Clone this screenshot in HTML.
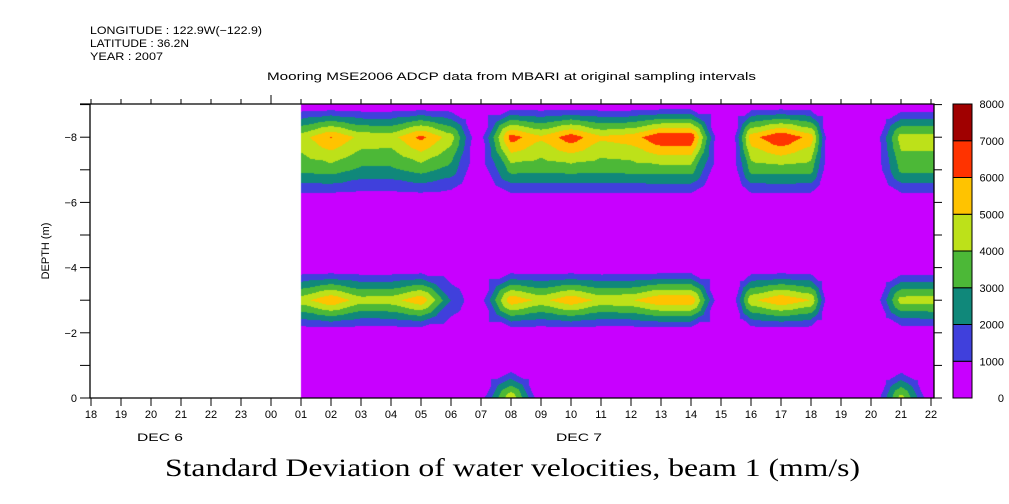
<!DOCTYPE html>
<html><head><meta charset="utf-8"><style>
html,body{margin:0;padding:0;background:#fff;width:1009px;height:504px;overflow:hidden}
svg{position:absolute;left:0;top:0}
canvas{position:absolute;left:0;top:0}
text{font-family:"Liberation Sans",sans-serif;font-size:11px;fill:#000}
</style></head><body>
<canvas id="field" width="1009" height="504"></canvas>
<svg id="chart" width="1009" height="504"></svg>
<script>
// hours since Dec 6 18:00 (index 7 = Dec 7 01:00)
const times = [7,8,9,10,11,12,12.9,14,15,16,17,18,19,20,20.95,21.35,22,23,24,24.6,26.1,27,28];
const depths = [0,-1,-2,-3,-4,-5,-6,-7,-8,-9];
// rows by depth (0 .. -9), columns by times
const row0 = [0,0,0,0,0,0,0,4900,0,0,0,0,0,0,0,0,0,0,0,0,0,4500,0];
const row3 = [4600,5900,4500,4600,5800,2000,0,5800,4700,5800,4700,4900,5900,5900,0,0,4800,5900,5000,0,0,4500,4600];
const row7 = [3300,3500,2800,2800,3400,2600,0,3400,3300,3400,3300,3400,3500,3500,0,0,3400,3500,3400,0,0,3300,3300];
const row8 = [4600,6050,4700,4600,6300,4500,0,6500,5200,6600,5200,5500,6900,6900,0,0,5600,7000,5600,0,0,4500,4500];
const zeros = times.map(()=>0);
const grid = [row0, zeros, zeros, row3, zeros, zeros, zeros, row7, row8, zeros];
const levels = [0,1000,2000,3000,4000,5000,6000,7000,8000];
const levelColors = ["#c800ff","#4040dc","#10887a","#4cb837","#bde119","#ffc300","#ff3300","#a00000"];
const hourLabels = ["18","19","20","21","22","23","00","01","02","03","04","05","06","07","08","09","10","11","12","13","14","15","16","17","18","19","20","21","22"];
const depthTicks = [0,-2,-4,-6,-8];

const X0=91, PXH=30, Y0=398, PXM=32.6, L=90, R=934, T=104, B=398;
const xs = h => X0 + h*PXH;
const ys = d => Y0 + d*PXM;
const hx = x => (x - X0)/PXH;
const dy = y => (y - Y0)/PXM;

// linear interpolation on 4 triangles per cell (centre = mean of corners)
function interp(t,d){
  let i=0; while(i<times.length-2 && t>times[i+1]) i++;
  let fx=(t-times[i])/(times[i+1]-times[i]); fx=Math.max(0,Math.min(1,fx));
  let j=0; while(j<depths.length-2 && d<depths[j+1]) j++;
  let fy=(depths[j]-d)/(depths[j]-depths[j+1]); fy=Math.max(0,Math.min(1,fy));
  const a=grid[j][i], b=grid[j][i+1], c=grid[j+1][i], e=grid[j+1][i+1];
  const m=(a+b+c+e)/4;
  const u=fx-0.5, v=fy-0.5;
  if(Math.abs(u)>=Math.abs(v)){
    // left or right triangle
    if(u<0){ // corners a(0,0), c(0,1)
      const s=-2*u; const w=(v/(-u||1)+1)/2; return m*(1-s)+s*(a*(1-w)+c*w);
    } else { const s=2*u; const w=(v/(u||1)+1)/2; return m*(1-s)+s*(b*(1-w)+e*w); }
  } else {
    if(v<0){ const s=-2*v; const w=(u/(-v||1)+1)/2; return m*(1-s)+s*(a*(1-w)+b*w); }
    else { const s=2*v; const w=(u/(v||1)+1)/2; return m*(1-s)+s*(c*(1-w)+e*w); }
  }
}
const cv=document.getElementById('field'); const ctx=cv.getContext('2d');
const xStart=Math.round(xs(times[0]));
for(let x=xStart;x<R;x++){
  const t=hx(x+0.5);
  for(let y=T;y<B;y++){
    const v=interp(t,dy(y+0.5));
    let k=0; while(k<levelColors.length-1 && v>=levels[k+1]) k++;
    ctx.fillStyle=levelColors[k]; ctx.fillRect(x,y,1,1);
  }
}

const NS="http://www.w3.org/2000/svg";
const svg=document.getElementById('chart');
function el(tag,attrs,txt){const e=document.createElementNS(NS,tag);for(const k in attrs)e.setAttribute(k,attrs[k]);if(txt!==undefined)e.textContent=txt;svg.appendChild(e);return e;}
let e;
e=el('text',{x:90,y:34,textLength:172,lengthAdjust:'spacingAndGlyphs'},'LONGITUDE : 122.9W(\u2212122.9)');


e=el('text',{x:90,y:47,textLength:99,lengthAdjust:'spacingAndGlyphs'},'LATITUDE : 36.2N');


e=el('text',{x:90,y:60,textLength:73,lengthAdjust:'spacingAndGlyphs'},'YEAR : 2007');


e=el('text',{x:267,y:80,'font-size':'12px',textLength:489,lengthAdjust:'spacingAndGlyphs'},'Mooring MSE2006 ADCP data from MBARI at original sampling intervals');


// axes
e=el('path',{d:`M80 ${T}H${R}V${B}H${L}V${T}`,fill:'none',stroke:'#000','stroke-width':1.3});


hourLabels.forEach((lab,i)=>{
  const x=xs(i);
  const big = lab==="00";
  const t1=el('line',{x1:x,x2:x,y1:B,y2:B+8,stroke:'#000'});
  
  
  const t2=el('line',{x1:x,x2:x,y1:T,y2:T-(big?9:5),stroke:'#000'});
  
  
  const tx=el('text',{x:x,y:418,'text-anchor':'middle'},lab);
  
  
});
e=el('text',{x:137,y:441,'font-size':'16px',textLength:46,lengthAdjust:'spacingAndGlyphs'},'DEC  6');


e=el('text',{x:556,y:441,'font-size':'16px',textLength:46,lengthAdjust:'spacingAndGlyphs'},'DEC  7');


for(let d=0; d>=-9; d--){
  const y=ys(d);
  const a=el('line',{x1:80,x2:L,y1:y,y2:y,stroke:'#000'});
  
  
  const b=el('line',{x1:R,x2:R+8,y1:y,y2:y,stroke:'#000'});
  
  
}
depthTicks.forEach(d=>{
  const tx=el('text',{x:77,y:ys(d)+4,'text-anchor':'end'},d===0?'0':'\u2212'+(-d));
  
  
});
e=el('text',{x:49,y:251,'text-anchor':'middle',transform:'rotate(-90 49 251)'},'DEPTH (m)');


// colorbar
const cbT=104, cbB=398, cbX=953, cbW=19, seg=(cbB-cbT)/levelColors.length;
levelColors.forEach((c,k)=>{
  const r=el('rect',{x:cbX,y:cbB-(k+1)*seg,width:cbW,height:seg,fill:c,stroke:'#000','stroke-width':1});
  
  
});
levels.forEach((v,k)=>{
  const tx=el('text',{x:1004,y:cbB-k*seg+4,'text-anchor':'end'},String(v));
  
  
});
e=el('text',{x:165,y:476,style:'font-family:"Liberation Serif",serif;font-size:25px',textLength:695,lengthAdjust:'spacingAndGlyphs'},'Standard Deviation of water velocities, beam 1 (mm/s)');


</script>
</body></html>
